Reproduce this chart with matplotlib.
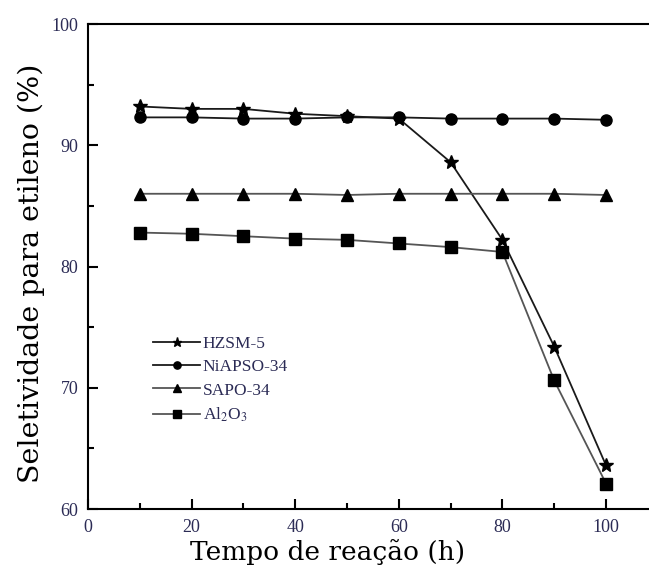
import numpy as np
import matplotlib.pyplot as plt
from matplotlib.ticker import MultipleLocator

# Reaction time (h) and para-ethylene selectivity (%) for each catalyst
tempo = [10, 20, 30, 40, 50, 60, 70, 80, 90, 100]
hzsm5 = [93.2, 93.0, 93.0, 92.6, 92.4, 92.2, 88.6, 82.2, 73.4, 63.6]
niapso34 = [92.3, 92.3, 92.2, 92.2, 92.3, 92.3, 92.2, 92.2, 92.2, 92.1]
sapo34 = [86.0, 86.0, 86.0, 86.0, 85.9, 86.0, 86.0, 86.0, 86.0, 85.9]
al2o3 = [82.8, 82.7, 82.5, 82.3, 82.2, 81.9, 81.6, 81.2, 70.6, 62.1]

series = [
    ("HZSM-5", hzsm5, "*", "#1a1a1a", 10),
    ("NiAPSO-34", niapso34, "o", "#1a1a1a", 8),
    ("SAPO-34", sapo34, "^", "#555555", 8),
    (r"Al$_2$O$_3$", al2o3, "s", "#555555", 8),
]

plt.rcParams["font.family"] = ["Liberation Serif", "DejaVu Serif"]
plt.rcParams["mathtext.fontset"] = "stix"

fig = plt.figure(figsize=(6.49, 5.69), dpi=100)
# axes run past the right edge, so the right spine is cut off
ax = fig.add_axes([0.1356, 0.1054, 0.878, 0.8524])

for label, vals, mk, col, ms in series:
    ax.plot(tempo, vals, color=col, lw=1.3, marker=mk, markersize=ms,
            markerfacecolor="black", markeredgecolor="black", label=label)

ax.set_xlim(0, 110)
ax.set_ylim(60, 100)
ax.xaxis.set_major_locator(MultipleLocator(20))
ax.xaxis.set_minor_locator(MultipleLocator(10))
ax.yaxis.set_major_locator(MultipleLocator(10))
ax.yaxis.set_minor_locator(MultipleLocator(5))
ax.tick_params(which="both", direction="in", top=False, right=False,
               labelsize=13, labelcolor="#2b2b55", width=1.5, pad=7)
ax.tick_params(which="major", length=7)
ax.tick_params(which="minor", length=4)
for s in ax.spines.values():
    s.set_linewidth(1.5)

ax.set_xlabel("Tempo de reação (h)", fontsize=19, family="DejaVu Serif")
ax.xaxis.set_label_coords(0.42, -0.062)
ax.set_ylabel("Seletividade para etileno (%)", fontsize=20.5,
              family="DejaVu Serif")
ax.yaxis.set_label_coords(-0.075, 0.487)

ax.legend(loc="upper left", bbox_to_anchor=(0.087, 0.39), frameon=False,
          fontsize=12.5, handlelength=2.7, handletextpad=0.15,
          labelspacing=0.42, markerscale=0.65, labelcolor="#2b2b55")

fig.savefig("out.png", dpi=100)
